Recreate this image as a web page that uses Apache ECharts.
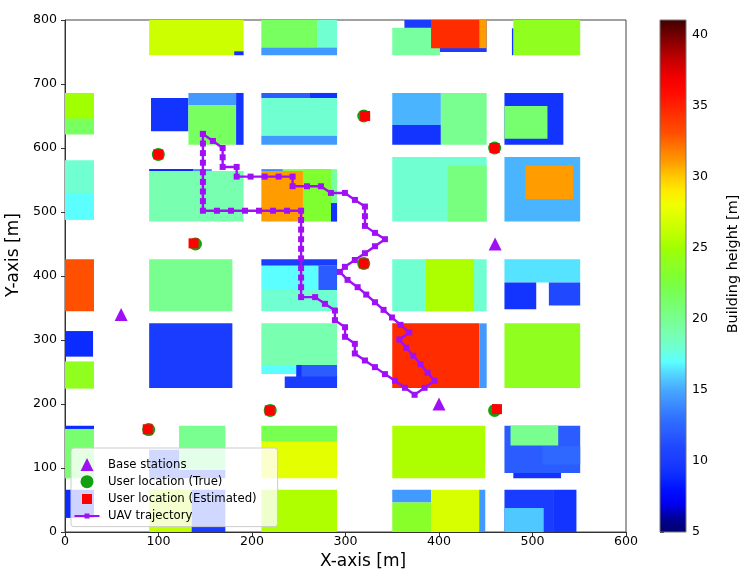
<!DOCTYPE html>
<html>
<head>
<meta charset="utf-8">
<style>html,body{margin:0;padding:0;background:#fff}#chart{width:747px;height:579px}</style>
<script src="https://cdn.jsdelivr.net/npm/echarts@6/dist/echarts.min.js"></script>
</head>
<body>
<div id="chart"></div>
<script>
// colour per metre of building height, 5 m to 41 m
var heightColors = ['#00006e','#000098','#0000f0','#0010ff','#0c2cff','#1a3cff','#2048ff','#2a5cff','#3070ff','#3c8cff','#48a8ff','#50d0ff','#5cffff','#70ffd0','#78ffb0','#78ff90','#78ff70','#78ff50','#80ff30','#90ff20','#a0ff00','#c0ff00','#d8ff00','#f0ff00','#ffea00','#ffc800','#ff9c00','#ff7800','#ff5000','#ff3800','#ff2000','#ff0800','#f00000','#cc0000','#a00000','#700000','#400000'];

// buildings: x0, x1, y0, y1, height
var col1 = [
    [0,31,621,686,21.5],[0,31,646,686,25],
    [0,31,488,581,18],[0,31,488,529,17],
    [0,31,345,426,33],
    [0,30,274,314,9],
    [0,31,224,266.5,24],
    [0,31,161,166,9],[0,31,84,161,21],
    [0,31,22,66,9]
];
var col2 = [
    [90,191,745,800,26.5],[181,191,745,751,9.5],
    [92,132,626,678,9.5],[132,183,667,686,14.5],[132,183,605,667,21.5],[183,191,605,686,9.5],
    [90,191,485,564,19],[90,137.5,564,567,9],[137.5,157,564,567,14],
    [90,179,345,426,20],
    [90,179,225,326,10],
    [122,171.5,97,166,20],[90,122,84,128.5,10],[122,171.5,84,97,10],
    [90,135.5,0,66,26],[135.5,171.5,0,66,10]
];
var col3 = [
    [210,270,757,800,21.5],[270,291,757,800,18],[210,291,745,757,14.5],
    [210,262,678,686,12],[262,291,678,686,9.5],[210,291,619,678,18],[210,291,605,619,14.5],
    [210,254.5,485,564,31],[254.5,284.5,485,567,23],[284.5,291,514,567,19.5],[284.5,291,485,514,9.5],[210,233,564,567,14],[233,254.5,564,567,22],
    [210,291,416,426,10],[210,271,378,416,17],[271,291,378,416,12],[210,291,345,378,18],
    [210,291,261,326,19],[210,247.5,247,261,17],[247.5,291,240.5,261,12],[247.5,253,240.5,261,9.5],[235,291,225,243,10],
    [210,291,141,166,22],[210,291,84,141,27.5],
    [210,291,0,66,25.5]
];
var col4 = [
    [363,451,750,800,10],[350,401,745,788,19.5],[391.5,443,756,800,34.5],[443,451,756,800,31],
    [350,402,636,686,15.3],[350,402,605,636,9.5],[402,451,605,686,20],
    [350,451,485,586,18],[409,451,485,572.5,20.5],
    [350,451,345,426,18],[386,437.5,345,426,25.4],
    [350,443,225,326,34.5],[443,451,225,326,14.5],
    [350,449.5,84,166,25.4],
    [350,391.5,46,66,14.5],[350,391.5,0,46,23.5],[391.5,443,0,66,27],[443,449.5,0,66,14.5]
];
var col5 = [
    [479.5,551,745,800,24],[478,479.5,745,787,9.5],
    [470,533,605,686,9.5],[470,516,614.5,665.5,21],
    [470,551,485,586,15.3],[492.5,543.5,520.5,572.5,31],
    [470,551,390,426,16.4],[470,504,348,390,9.5],[517.5,551,354,390,11],
    [470,551,225,326,24],
    [470,551,92,166,12],[510.5,551,105.5,134,12.6],[476.5,527.5,135,166,20],[479.5,530.5,84,92,9.5],
    [470,522,0,66,10],[522,547,0,66,9.5],[470,512,0,37.5,15.8]
];
var buildings = col1.concat(col2, col3, col4, col5);

var baseStations = [[60,340],[400,200],[460,450]];
var usersTrue = [[99.8,590],[139.5,450],[319.5,650],[459.5,600],[319.5,419.5],[89.5,160],[219.5,190],[459.5,190]];
var usersEst = [[99.8,590],[137.5,451],[321,650],[459.5,600],[319.5,419.5],[88.5,160.5],[219,190],[462,192]];

var trajectory = [
    [147.5,622],[147.5,607],[147.5,592],[147.5,577],[147.5,562],[147.5,547],[147.5,532],[147.5,517],[147.5,502],
    [162.5,502],[177.5,502],[192.5,502],[207.5,502],[222.5,502],[237.5,502],[252.5,502],
    [252.5,487.5],[252.5,472.5],[252.5,457.5],[252.5,442.5],[252.5,427.5],[252.5,412.5],[252.5,397.5],[252.5,382.5],[252.5,367],
    [267.5,367],[278,356.5],[288.7,346],[288.7,331],[299.5,320],[299.5,305],[310,294],[310,279],
    [320.8,268],[331.5,257.6],[342.2,246.7],[352.9,236.3],[363.6,225.3],[373.9,214.4],[384.6,225.3],[395.3,236.3],
    [387.8,248.8],[380.3,262.3],[372.5,275.3],[365,287.8],[357.5,300.8],[368.2,311.7],[358.9,323.7],[349.7,335.2],
    [340.7,347.1],[331.5,359],[322.2,371],[313,382.5],[302.2,394],[294,406.4],[299.4,414.3],[310,425],
    [320.8,435.6],[331.5,446.5],[342.2,457.5],[331.5,467.4],[320.8,478.3],[320.8,493.4],[320.8,508.5],
    [310.1,518.9],[299.4,529.8],[284.4,529.8],[273.7,540.2],[258.8,540.2],[243.4,540.2],[243.4,555.3],
    [228.5,555.3],[213.5,555.3],[198.5,555.3],[183.6,555.3],[183.6,570.4],[168.6,570.4],[168.6,585.5],[168.6,600],[158.2,611],[147.5,622]
];

var fontName = '"DejaVu Sans"';
var myChart = echarts.init(document.getElementById('chart'));

function renderBuilding(params, api) {
    var a = api.coord([api.value(0), api.value(3)]);
    var b = api.coord([api.value(1), api.value(2)]);
    return {
        type: 'rect',
        shape: {x: a[0], y: a[1], width: b[0] - a[0], height: b[1] - a[1]},
        style: {fill: api.visual('color')}
    };
}

function renderColorbar(params, api) {
    var a = api.coord([0, api.value(1)]);
    var b = api.coord([1, api.value(0)]);
    var stops = heightColors.map(function (c, i) {
        return {offset: i / (heightColors.length - 1), color: c};
    });
    return {
        type: 'rect',
        shape: {x: a[0], y: a[1], width: b[0] - a[0], height: b[1] - a[1]},
        style: {fill: new echarts.graphic.LinearGradient(0, 1, 0, 0, stops), stroke: '#777', lineWidth: 1}
    };
}

var option = {
    animation: false,
    textStyle: {fontFamily: fontName},
    grid: [
        {left: 65, top: 20, width: 561, height: 512, outerBoundsMode: 'none', show: true, borderColor: '#444', borderWidth: 1, backgroundColor: '#fff'},
        {left: 660, top: 20, width: 26, height: 512, outerBoundsMode: 'none'}
    ],
    xAxis: [
        {
            gridIndex: 0, type: 'value', min: 0, max: 600, interval: 100,
            name: 'X-axis [m]', nameLocation: 'middle', nameGap: 20,
            nameTextStyle: {fontSize: 17, color: '#000', padding: [0, 0, 0, 35]},
            axisLine: {lineStyle: {color: '#333'}},
            axisTick: {length: 4, lineStyle: {color: '#333'}},
            axisLabel: {fontSize: 12.6, color: '#000', margin: 3, hideOverlap: false},
            splitLine: {show: false}
        },
        {gridIndex: 1, type: 'value', min: 0, max: 1, show: false}
    ],
    yAxis: [
        {
            gridIndex: 0, type: 'value', min: 0, max: 800, interval: 100,
            name: 'Y-axis [m]', nameLocation: 'middle', nameGap: 36,
            nameTextStyle: {fontSize: 17, color: '#000', padding: [0, 0, 0, 42]},
            axisLine: {lineStyle: {color: '#333'}},
            axisTick: {length: 4, lineStyle: {color: '#333'}},
            axisLabel: {fontSize: 12.6, color: '#000', margin: 8},
            splitLine: {show: false}
        },
        {
            gridIndex: 1, type: 'value', min: 5, max: 41, interval: 5, position: 'right',
            name: 'Building height [m]', nameLocation: 'middle', nameGap: 40, nameRotate: 90,
            nameTextStyle: {fontSize: 14.4, color: '#000', padding: [0, 0, 0, 24]},
            axisLine: {show: false},
            axisTick: {show: true, length: 4, lineStyle: {color: '#333'}},
            axisLabel: {fontSize: 12.6, color: '#000', margin: 6, showMaxLabel: false},
            splitLine: {show: false}
        }
    ],
    visualMap: {
        show: false, type: 'continuous', seriesIndex: 0, dimension: 4,
        min: 5, max: 41, inRange: {color: heightColors}
    },
    legend: {
        orient: 'vertical', left: 71, top: 448,
        padding: [10, 21, 4, 0],
        itemWidth: 32, itemHeight: 13, itemGap: 4.2,
        backgroundColor: 'rgba(255,255,255,0.8)',
        borderColor: '#ccc', borderWidth: 1, borderRadius: 3,
        textStyle: {fontSize: 11.7, color: '#000', fontFamily: fontName},
        data: [
            {name: 'Base stations', icon: 'path://M0 13L6.5 0L13 13Z'},
            {name: 'User location (True)', icon: 'circle'},
            // corner specks keep the square at its own size inside the item box
            {name: 'User location (Estimated)', icon: 'path://M0 0h.01v.01h-.01ZM1.5 1.5H11.5V11.5H1.5ZM12.99 12.99h.01v.01h-.01Z'},
            {name: 'UAV trajectory', icon: 'path://M0 0h.01v.01h-.01ZM3.5 5.5H13.5V4H18.5V5.5H28.5V7.5H18.5V9H13.5V7.5H3.5ZM31.99 12.99h.01v.01h-.01Z'}
        ]
    },
    series: [
        {type: 'custom', xAxisIndex: 0, yAxisIndex: 0, renderItem: renderBuilding, data: buildings, silent: true, clip: true},
        {type: 'custom', xAxisIndex: 1, yAxisIndex: 1, renderItem: renderColorbar, data: [[5, 41]], silent: true},
        {name: 'Base stations', type: 'scatter', symbol: 'triangle', symbolSize: 13, data: baseStations, itemStyle: {color: '#a010f5', opacity: 1}},
        {name: 'User location (True)', type: 'scatter', symbol: 'circle', symbolSize: 13, data: usersTrue, itemStyle: {color: '#12a012', opacity: 1}},
        {name: 'User location (Estimated)', type: 'scatter', symbol: 'rect', symbolSize: 10, data: usersEst, itemStyle: {color: '#ff0000', opacity: 1}},
        {
            name: 'UAV trajectory', type: 'line', data: trajectory, symbol: 'rect', symbolSize: 6, showAllSymbol: true,
            lineStyle: {color: '#a010f5', width: 2.4}, itemStyle: {color: '#a010f5'}
        }
    ]
};
myChart.setOption(option);
</script>
</body>
</html>
